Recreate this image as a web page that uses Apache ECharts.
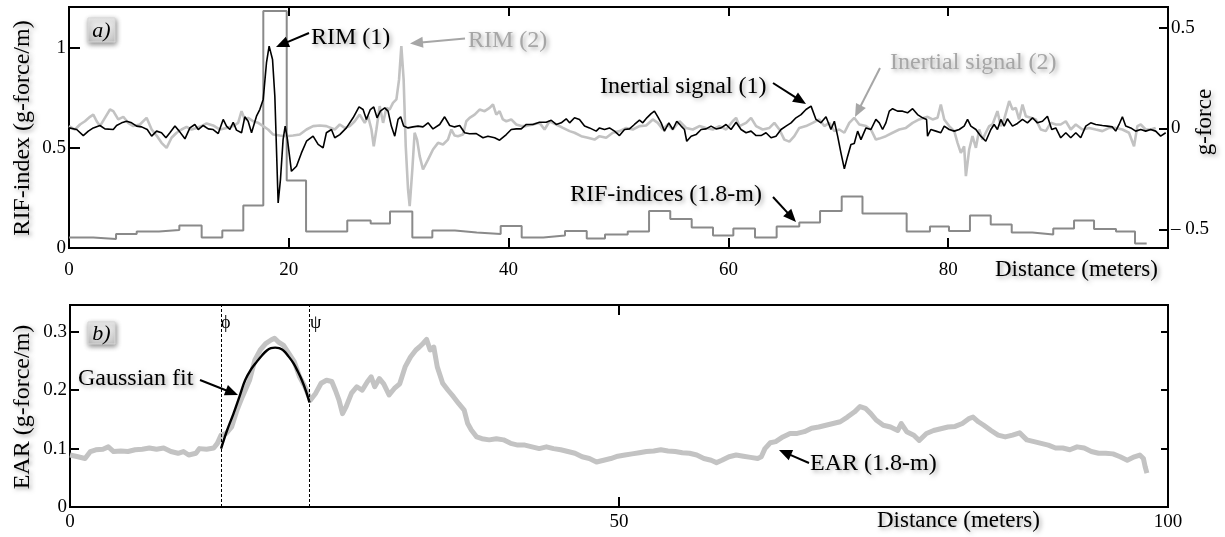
<!DOCTYPE html>
<html><head><meta charset="utf-8">
<script src="https://cdn.jsdelivr.net/npm/echarts@6.0.0/dist/echarts.min.js"></script>
<style>html,body{margin:0;padding:0;background:#fff}#c{width:1225px;height:537px}</style>
</head><body><div id="c"></div>
<script>
// ---------- DATA (distance in meters) ----------
// Inertial signal (1), g-force (black)
const sig1 = [[0,0.003],[0.70,-0.005],[1.30,-0.035],[1.76,-0.013],[2.21,0.003],[2.82,0.015],[3.27,-0.002],[4.03,-0.005],[4.33,0.015],[4.79,0.028],[5.24,0.036],[5.70,0.028],[6.15,0.012],[6.61,0.008],[7.12,-0.005],[7.52,-0.038],[7.97,-0.013],[8.42,-0.021],[8.82,-0.046],[9.18,-0.021],[9.64,0.012],[10.03,-0.013],[10.55,-0.051],[11.0,0.003],[11.45,0.020],[11.76,-0.005],[12.21,0.015],[12.67,-0.002],[13.12,-0.005],[13.58,-0.025],[14.03,0.045],[14.33,0.012],[14.64,-0.005],[14.94,0.031],[15.24,-0.008],[15.70,-0.021],[16.0,0.058],[16.30,0.036],[16.61,-0.021],[17.06,0.061],[17.36,0.094],[17.67,0.144],[17.97,0.326],[18.21,0.408],[18.52,0.342],[18.73,0.160],[19.03,-0.369],[19.24,-0.253],[19.48,-0.055],[19.67,0.012],[19.88,-0.055],[20.24,-0.212],[20.70,-0.187],[21.15,-0.121],[21.61,-0.063],[22.21,-0.038],[22.67,-0.079],[23.12,-0.096],[23.42,-0.021],[23.88,-0.005],[24.18,-0.046],[24.64,-0.030],[25.24,0.003],[25.85,0.053],[26.39,0.107],[26.76,0.094],[27.06,0.045],[27.42,0.094],[27.73,0.107],[28.03,0.053],[28.33,0.086],[28.73,0.102],[29.03,0.086],[29.33,0.012],[29.64,-0.038],[29.94,0.045],[30.18,0.058],[30.45,0.012],[30.85,0.003],[31.30,0.008],[31.76,0.012],[32.21,0.008],[32.67,0.028],[33.12,-0.002],[33.73,0.020],[34.18,0.058],[34.64,0.015],[35.09,0.008],[35.55,0.015],[36.0,-0.021],[36.45,-0.026],[37.06,-0.025],[37.67,-0.046],[38.12,-0.038],[38.73,-0.046],[39.18,-0.058],[39.79,-0.030],[40.24,-0.005],[40.70,-0.002],[41.15,-0.002],[41.61,0.020],[42.21,0.020],[42.82,0.031],[43.42,0.031],[43.88,0.041],[44.33,0.020],[44.79,0.028],[45.24,0.048],[45.55,0.028],[46.0,0.053],[46.45,0.045],[46.91,0.012],[47.36,0.003],[47.97,-0.013],[48.27,0.003],[48.73,-0.005],[49.18,0.003],[49.64,-0.013],[50.09,-0.035],[50.55,-0.005],[51.0,-0.002],[51.45,0.020],[51.91,0.041],[52.21,0.028],[52.58,0.053],[52.97,0.074],[53.27,0.086],[53.58,0.058],[53.88,0.028],[54.18,-0.013],[54.58,0.028],[54.94,-0.005],[55.30,0.036],[55.70,0.012],[56.0,-0.005],[56.21,-0.063],[56.61,-0.038],[57.06,-0.030],[57.52,-0.005],[57.97,-0.002],[58.42,0.012],[58.88,-0.002],[59.33,0.003],[59.79,0.020],[60.24,-0.005],[60.70,0.031],[61.15,-0.005],[61.61,-0.021],[62.06,-0.013],[62.52,-0.035],[62.97,-0.035],[63.42,-0.021],[63.88,-0.046],[64.33,-0.038],[64.79,-0.005],[65.24,0.012],[65.70,0.028],[66.15,0.053],[66.61,0.069],[67.06,0.094],[67.52,0.111],[67.97,0.045],[68.42,0.028],[68.88,0.058],[69.33,-0.005],[69.64,0.036],[69.94,-0.038],[70.24,-0.121],[70.55,-0.200],[70.85,-0.137],[71.15,-0.079],[71.45,-0.074],[71.76,-0.013],[72.06,-0.055],[72.52,0.003],[72.97,-0.005],[73.42,0.045],[73.73,0.028],[74.03,-0.005],[74.33,0.028],[74.64,0.086],[74.94,0.098],[75.39,0.086],[75.85,0.086],[76.30,0.078],[76.76,0.098],[77.21,0.069],[77.67,0.053],[78.03,0.045],[78.12,-0.038],[78.42,-0.005],[78.88,-0.013],[79.33,-0.021],[79.64,0.012],[80.09,-0.005],[80.55,-0.013],[81.0,-0.005],[81.45,0.012],[81.76,0.045],[82.06,0.012],[82.52,-0.005],[82.97,-0.038],[83.42,-0.063],[83.88,-0.005],[84.18,0.020],[84.48,-0.005],[84.79,0.045],[85.09,0.012],[85.39,0.048],[85.85,0.012],[86.30,0.025],[86.76,0.045],[87.21,0.028],[87.67,0.053],[88.12,0.028],[88.58,0.036],[89.03,0.061],[89.42,-0.005],[89.79,0.003],[90.24,-0.046],[90.70,-0.021],[91.15,-0.046],[91.61,-0.021],[92.06,-0.046],[92.52,0.012],[92.97,0.028],[93.42,0.020],[94.03,0.015],[94.48,0.012],[94.94,0.008],[95.24,-0.013],[95.55,0.020],[95.85,0.058],[96.15,0.012],[96.61,0.003],[97.06,-0.013],[97.52,-0.005],[97.97,-0.013],[98.42,-0.005],[98.88,-0.013],[99.33,-0.038],[99.79,-0.021]];

// Inertial signal (2), g-force (light grey)
const sig2 = [[0,0.012],[0.55,-0.005],[1.0,0.020],[1.45,0.036],[1.91,0.058],[2.21,0.069],[2.52,0.036],[2.82,0.012],[3.27,0.053],[3.73,0.094],[4.03,0.086],[4.48,0.045],[4.94,0.058],[5.39,0.028],[5.85,0.012],[6.45,0.020],[7.06,0.053],[7.52,-0.005],[7.97,-0.035],[8.42,-0.071],[8.88,-0.096],[9.33,-0.046],[9.79,-0.021],[10.24,-0.005],[10.70,0.008],[11.15,-0.005],[11.61,0.003],[12.06,0.012],[12.52,0.025],[13.12,0.015],[13.73,-0.005],[14.33,0.003],[14.94,0.012],[15.39,0.028],[15.70,0.086],[16.0,0.045],[16.30,0.053],[16.76,0.036],[17.21,0.028],[17.67,0.012],[18.12,-0.005],[18.58,-0.030],[19.18,-0.035],[19.79,-0.038],[20.39,-0.035],[21.0,-0.030],[21.61,-0.005],[22.21,0.012],[22.82,0.015],[23.42,0.012],[24.18,-0.005],[24.64,0.020],[25.09,0.003],[25.55,0.012],[26.0,0.036],[26.45,0.069],[26.91,0.028],[27.21,0.061],[27.52,-0.005],[27.73,-0.088],[27.97,-0.005],[28.27,0.111],[28.58,0.028],[28.88,0.102],[29.18,0.094],[29.48,0.127],[29.79,0.144],[30.03,0.242],[30.24,0.408],[30.45,0.242],[30.64,-0.088],[30.85,-0.302],[31.0,-0.385],[31.24,-0.203],[31.45,-0.021],[31.67,-0.055],[31.91,-0.137],[32.21,-0.203],[32.67,-0.154],[33.12,-0.104],[33.58,-0.071],[34.03,-0.079],[34.48,-0.055],[34.79,-0.005],[35.09,-0.035],[35.39,-0.038],[35.85,-0.030],[36.15,0.036],[36.45,0.053],[36.91,0.069],[37.36,0.094],[37.82,0.086],[38.27,0.102],[38.58,0.119],[38.88,0.069],[39.18,0.086],[39.48,0.045],[39.79,0.036],[40.24,0.045],[40.70,0.020],[41.15,0.012],[41.61,0.012],[42.21,0.020],[42.82,0.028],[43.27,-0.005],[43.73,0.036],[44.33,0.020],[44.94,0.003],[45.55,-0.013],[46.0,-0.021],[46.61,-0.038],[47.21,-0.046],[47.82,-0.055],[48.27,-0.038],[48.88,-0.046],[49.48,-0.021],[50.09,-0.013],[50.70,0.003],[51.30,-0.005],[51.91,0.012],[52.52,0.015],[53.12,0.045],[53.58,0.028],[54.03,-0.005],[54.48,0.020],[54.94,-0.005],[55.55,0.036],[56.15,0.003],[56.76,-0.005],[57.36,0.012],[57.97,0.003],[58.58,-0.005],[59.18,0.012],[59.79,-0.005],[60.39,0.036],[60.70,0.053],[61.0,0.012],[61.61,0.028],[62.06,0.053],[62.52,0.012],[63.12,-0.005],[63.73,0.003],[64.18,0.028],[64.64,-0.005],[65.09,-0.055],[65.55,-0.065],[66.0,-0.038],[66.45,0.003],[67.06,0.012],[67.67,0.028],[68.27,0.045],[68.73,0.012],[69.18,0.028],[69.64,-0.013],[70.09,-0.005],[70.55,-0.021],[71.0,0.028],[71.45,0.053],[71.91,0.020],[72.52,0.012],[72.97,-0.005],[73.42,-0.055],[73.73,-0.050],[74.33,-0.038],[74.94,-0.021],[75.55,-0.005],[76.15,0.003],[76.76,0.028],[77.36,0.045],[77.82,0.053],[78.12,0.058],[78.58,0.045],[79.03,0.053],[79.33,0.119],[79.64,0.045],[80.09,0.012],[80.55,-0.013],[80.85,-0.071],[81.15,-0.121],[81.45,-0.088],[81.61,-0.236],[81.91,-0.104],[82.21,-0.038],[82.52,-0.096],[82.82,-0.005],[83.12,-0.055],[83.42,-0.021],[83.73,0.012],[84.03,0.020],[84.48,0.086],[84.79,0.012],[85.09,0.045],[85.55,0.136],[85.85,0.094],[86.15,0.102],[86.45,0.045],[86.76,0.119],[87.06,0.061],[87.52,0.053],[87.97,0.045],[88.42,-0.005],[88.88,-0.013],[89.33,0.028],[89.79,0.020],[90.24,0.020],[90.70,0.036],[91.15,-0.005],[91.61,0.020],[92.21,-0.005],[92.82,0.003],[93.42,-0.005],[94.03,-0.013],[94.64,0.003],[95.24,0.003],[95.85,-0.005],[96.45,-0.021],[96.91,-0.088],[97.21,0.012],[97.52,0.020],[97.97,-0.005],[98.42,-0.005],[98.88,0.003]];

// RIF-indices (1.8-m): start distance of each step and its level (g-force/m)
const rifDist = [0,2.21,4.28,6.16,8.19,10.04,12.07,13.95,15.86,17.68,19.81,21.57,25.32,27.45,29.21,31.24,33.06,35.12,37.10,39.28,41.19,43.16,45.13,47.11,48.77,50.84,52.78,54.71,56.66,58.60,60.45,62.42,64.39,66.45,68.34,70.31,72.20,76.22,78.34,80.07,81.98,83.87,85.78,87.65,89.56,91.45,93.27,95.27,97.00,98.06];
const rifIdx = [0.053,0.045,0.07,0.083,0.09,0.113,0.053,0.087,0.213,1.185,0.337,0.083,0.137,0.123,0.182,0.053,0.087,0.078,0.07,0.11,0.053,0.063,0.085,0.048,0.068,0.082,0.185,0.145,0.103,0.062,0.098,0.053,0.107,0.128,0.185,0.257,0.172,0.082,0.107,0.085,0.162,0.118,0.078,0.068,0.098,0.137,0.095,0.082,0.023,0.023];

// EAR (1.8-m), g-force/m
const ear = [[0.0,0.089],[0.72,0.086],[1.37,0.083],[1.86,0.095],[2.35,0.098],[3.0,0.099],[3.49,0.103],[3.97,0.095],[4.63,0.096],[5.28,0.095],[5.93,0.098],[6.58,0.099],[7.23,0.101],[7.88,0.099],[8.53,0.101],[9.19,0.095],[9.84,0.092],[10.33,0.095],[10.81,0.089],[11.47,0.092],[11.79,0.100],[12.44,0.099],[13.09,0.101],[13.42,0.109],[13.75,0.123],[14.23,0.126],[14.72,0.137],[15.21,0.166],[15.70,0.189],[16.35,0.217],[16.84,0.252],[17.33,0.269],[17.82,0.280],[18.31,0.286],[18.63,0.289],[18.96,0.283],[19.45,0.277],[19.93,0.263],[20.42,0.249],[20.91,0.223],[21.40,0.206],[21.89,0.183],[22.38,0.195],[22.87,0.212],[23.36,0.217],[23.84,0.215],[24.17,0.200],[24.50,0.183],[24.82,0.160],[25.15,0.172],[25.64,0.195],[26.12,0.206],[26.61,0.200],[27.10,0.215],[27.43,0.223],[27.75,0.206],[28.18,0.220],[28.57,0.211],[29.06,0.192],[29.54,0.203],[30.03,0.211],[30.52,0.240],[31.01,0.257],[31.50,0.269],[31.82,0.274],[32.15,0.280],[32.48,0.287],[32.80,0.269],[33.13,0.274],[33.45,0.240],[33.94,0.212],[34.43,0.200],[34.92,0.189],[35.41,0.177],[35.90,0.166],[36.22,0.143],[36.55,0.132],[37.04,0.120],[37.52,0.117],[38.18,0.115],[38.83,0.117],[39.48,0.115],[40.13,0.109],[40.78,0.106],[41.43,0.106],[42.08,0.103],[42.74,0.100],[43.39,0.103],[44.04,0.100],[44.69,0.098],[45.34,0.095],[45.99,0.092],[46.64,0.086],[47.30,0.083],[47.95,0.077],[48.60,0.080],[49.25,0.083],[49.89,0.087],[50.54,0.089],[51.19,0.091],[51.85,0.093],[52.50,0.095],[53.16,0.096],[53.81,0.098],[54.46,0.096],[55.12,0.095],[55.77,0.093],[56.42,0.092],[57.08,0.089],[57.73,0.083],[58.39,0.080],[58.88,0.076],[59.37,0.080],[60.02,0.086],[60.67,0.089],[61.33,0.087],[61.98,0.085],[62.63,0.083],[62.96,0.086],[63.29,0.100],[63.78,0.110],[64.27,0.112],[64.92,0.120],[65.58,0.126],[66.23,0.126],[66.88,0.129],[67.54,0.135],[68.19,0.137],[68.84,0.140],[69.50,0.143],[70.15,0.146],[70.80,0.154],[71.46,0.163],[71.95,0.172],[72.44,0.169],[72.93,0.160],[73.42,0.149],[74.07,0.140],[74.73,0.137],[75.38,0.131],[75.71,0.143],[76.20,0.129],[76.85,0.123],[77.34,0.114],[78.0,0.126],[78.65,0.131],[79.30,0.134],[79.96,0.137],[80.61,0.138],[81.27,0.143],[81.92,0.152],[82.24,0.154],[82.73,0.146],[83.22,0.140],[83.88,0.131],[84.53,0.123],[85.18,0.120],[85.84,0.123],[86.49,0.127],[87.14,0.115],[87.80,0.112],[88.45,0.109],[89.10,0.106],[89.76,0.101],[90.41,0.101],[91.06,0.098],[91.72,0.103],[92.37,0.101],[93.02,0.095],[93.68,0.092],[94.33,0.092],[94.99,0.091],[95.64,0.086],[96.29,0.080],[96.94,0.086],[97.43,0.089],[97.76,0.083],[97.92,0.069],[98.08,0.058]];

// Gaussian fit
const fitDist = [13.76,14.3,14.89,15.45,15.95,16.5,17.02,17.5,17.93,18.3,18.69,19.05,19.45,19.9,20.36,20.75,21.12,21.5,21.81];
const fitVal  = [0.100,0.131,0.160,0.190,0.217,0.236,0.249,0.260,0.268,0.272,0.273,0.272,0.268,0.258,0.246,0.232,0.217,0.198,0.179];

// phi / psi markers
const markerDist = [13.8, 21.8];

// ticks / labels
const aXTicks = [20,40,60,80];
const aXLabels = [0,20,40,60,80];
const aLeftTicks = [0.5,1];
const aLeftLabels = [0,0.5,1];
const aRightTicks = [-0.5,0,0.5];
const bXTicks = [50,100];
const bXLabels = [0,50,100];
const bYTicks = [0.1,0.2,0.3];
const bYLabels = [0,0.1,0.2,0.3];

// ---------- CHART ----------
const FF = '"Liberation Serif","Times New Roman",serif';
const SH = {textShadowColor:'rgba(0,0,0,0.35)', textShadowBlur:4, textShadowOffsetX:2, textShadowOffsetY:2};
const chart = echarts.init(document.getElementById('c'), null, {renderer:'canvas'});

function xAx(grid, pos, ticks, labels, tickLen, margin){
  return {type:'value', gridIndex:grid, position:pos, min:0, max:100,
    axisLine:{show:false, onZero:false}, splitLine:{show:false},
    axisTick:{show:true, inside:true, length:tickLen, customValues:ticks, lineStyle:{color:'#000', width:2}},
    axisLabel: labels ? {show:true, customValues:labels, margin:margin, color:'#000', fontSize:19, fontFamily:FF} : {show:false}};
}
function yAx(grid, pos, min, max, ticks, labels, tickLen, fmt){
  return {type:'value', gridIndex:grid, position:pos, min:min, max:max,
    axisLine:{show:false, onZero:false}, splitLine:{show:false},
    axisTick:{show:true, inside:true, length:tickLen, customValues:ticks, lineStyle:{color:'#000', width:2}},
    axisLabel: labels ? {show:true, customValues:labels, margin:3, color:'#000', fontSize:19, fontFamily:FF, formatter:fmt} : {show:false}};
}

const rifData = rifDist.map((d,i)=>[d, rifIdx[i]]);
const fitData = fitDist.map((d,i)=>[d, fitVal[i]]);

function text(x, y, s, o){
  o = o || {};
  return {type:'text', x:x, y:y, rotation:o.rot||0, z:100,
    style:Object.assign({text:s, fill:o.color||'#000', fontSize:o.size||24, fontFamily:FF, fontStyle:o.italic?'italic':'normal',
      textAlign:o.align||'left', textVerticalAlign:'middle'}, o.noShadow?{}:SH)};
}
function arrow(x1,y1,x2,y2,color){
  const dx=x2-x1, dy=y2-y1, L=Math.hypot(dx,dy), ux=dx/L, uy=dy/L, nx=-uy, ny=ux;
  const hl=13, hw=5.5;
  const bx=x2-ux*hl, by=y2-uy*hl;
  return [
    {type:'line', z:100, shape:{x1:x1,y1:y1,x2:bx+ux*2,y2:by+uy*2}, style:{stroke:color, lineWidth:2}},
    {type:'polygon', z:100, shape:{points:[[x2,y2],[bx+nx*hw,by+ny*hw],[bx-nx*hw,by-ny*hw]]}, style:{fill:color}}
  ];
}
function box(x,y,w,h,s){
  return [
    {type:'rect', z:99, shape:{x:x,y:y,width:w,height:h},
      style:{fill:new echarts.graphic.LinearGradient(0,0,0,1,[{offset:0,color:'#f6f6f6'},{offset:1,color:'#c9c9c9'}]),
        stroke:'#d8d8d8', lineWidth:1, shadowColor:'rgba(0,0,0,0.45)', shadowBlur:5, shadowOffsetX:1, shadowOffsetY:2}},
    text(x+w/2, y+h/2+1, s, {size:22, italic:true, align:'center', noShadow:true})
  ];
}

const GREY_TXT = '#a6a6a6';
const graphics = [].concat(
  box(88,18,27,24,'a)'),
  box(88,322,27,22,'b)'),
  text(311,37.5,'RIM (1)'), arrow(309,33,276,47,'#000'),
  text(468,41,'RIM (2)',{color:GREY_TXT}), arrow(465,38.5,410,43.5,GREY_TXT),
  text(600,87,'Inertial signal (1)'), arrow(773,83,806,104,'#000'),
  text(890,62.5,'Inertial signal (2)',{color:GREY_TXT}), arrow(880,68,855,117,GREY_TXT),
  text(570,195,'RIF-indices (1.8-m)'), arrow(773,197,796,222,'#000'),
  text(78,379,'Gaussian fit'), arrow(200,380,238,395,'#000'),
  text(810,464,'EAR (1.8-m)'), arrow(809,463,779,450,'#000'),
  text(221,323,'ϕ',{size:18, noShadow:true}),
  text(310,323,'ψ',{size:18, noShadow:true}),
  text(22.5,128,'RIF-index (g-force/m)',{rot:Math.PI/2, align:'center', size:24}),
  text(1205,122,'g-force',{rot:Math.PI/2, align:'center', size:23}),
  text(995,270,'Distance (meters)',{size:23}),
  text(22.5,407,'EAR (g-force/m)',{rot:Math.PI/2, align:'center', size:24}),
  text(877,521,'Distance (meters)',{size:23})
);

chart.setOption({
  animation:false,
  backgroundColor:'#fff',
  grid:[
    {left:69, top:7, width:1099, height:241, show:true, borderColor:'#000', borderWidth:2, backgroundColor:'transparent'},
    {left:70, top:305, width:1098, height:202, show:true, borderColor:'#000', borderWidth:2, backgroundColor:'transparent'}
  ],
  xAxis:[
    xAx(0,'bottom',aXTicks,aXLabels,10,13),
    xAx(0,'top',aXTicks,null,9),
    xAx(1,'bottom',bXTicks,bXLabels,10,6),
    xAx(1,'top',bXTicks,null,10)
  ],
  yAxis:[
    yAx(0,'left',0,1.205,aLeftTicks,aLeftLabels,11),
    yAx(0,'right',-0.592,0.602,aRightTicks,aRightTicks,9,function(v){return v<0?'– '+Math.abs(v):String(v);}),
    yAx(1,'left',0,0.346,bYTicks,bYLabels,9),
    yAx(1,'right',0,0.346,bYTicks,null,7)
  ],
  series:[
    {name:'RIF-indices (1.8-m)', type:'line', xAxisIndex:0, yAxisIndex:0, step:'end', data:rifData, showSymbol:false,
      lineStyle:{color:'#8a8a8a', width:2}, z:2},
    {name:'Inertial signal (2)', type:'line', xAxisIndex:0, yAxisIndex:1, data:sig2, showSymbol:false,
      lineStyle:{color:'#c2c2c2', width:2.6}, z:3},
    {name:'Inertial signal (1)', type:'line', xAxisIndex:0, yAxisIndex:1, data:sig1, showSymbol:false,
      lineStyle:{color:'#000', width:1.6}, z:4},
    {name:'EAR (1.8-m)', type:'line', xAxisIndex:2, yAxisIndex:2, data:ear, showSymbol:false,
      lineStyle:{color:'#c3c3c3', width:5, join:'round'}, z:2,
      markLine:{silent:true, symbol:['none','none'], label:{show:false},
        lineStyle:{color:'#000', width:1, type:[3,2]},
        data:markerDist.map(d=>({xAxis:d}))}},
    {name:'Gaussian fit', type:'line', xAxisIndex:2, yAxisIndex:2, data:fitData, showSymbol:false, smooth:0.4,
      lineStyle:{color:'#000', width:2.4}, z:4}
  ],
  graphic:graphics
});
</script></body></html>
